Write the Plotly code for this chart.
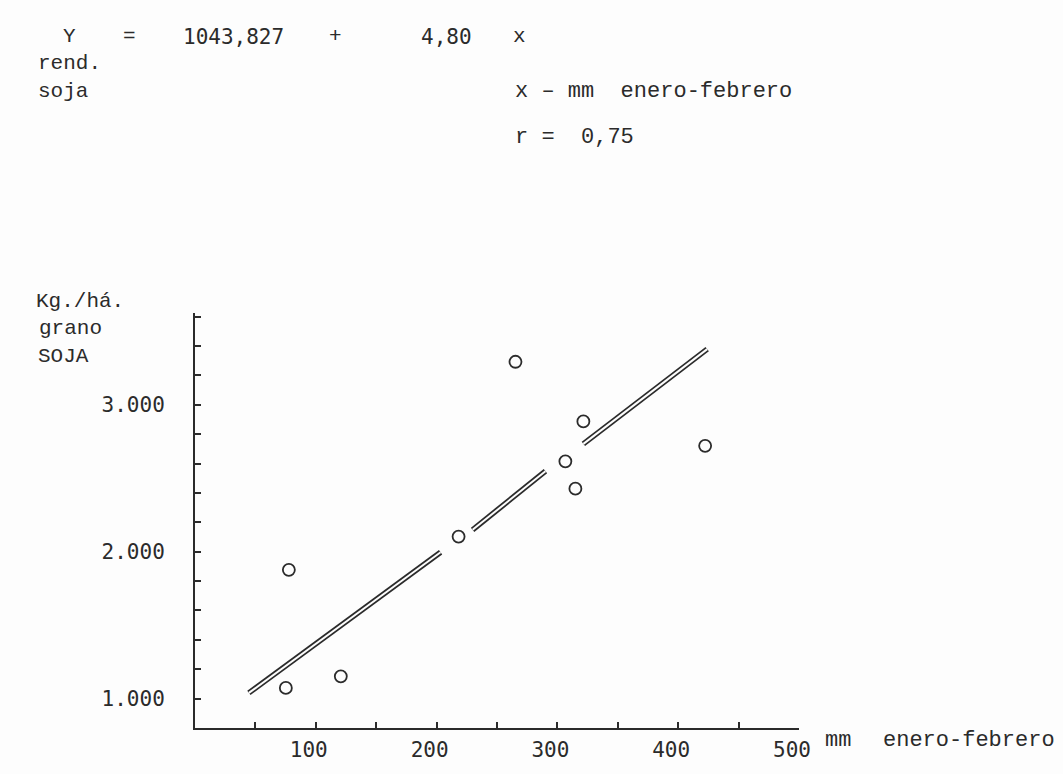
import plotly.graph_objects as go

# ---- data ----
rain_mm = [77.7, 75.2, 120.7, 218.2, 265.3, 321.5, 306.6, 314.9, 422.3]
yield_kg = [1877, 1073, 1152, 2103, 3293, 2887, 2615, 2429, 2721]

# hand-drawn regression line (broken in three pieces around the points)
line_x = [44.6, 203.3, None, 229.8, 290.1, None, 321.5, 424.0]
line_y = [1039, 1996, None, 2149, 2548, None, 2734, 3379]

x_tickvals = [100, 200, 300, 400, 500]
x_ticktext = ["100", "200", "300", "400", "500"]
y_tickvals = [1000, 2000, 3000]
y_ticktext = ["1.000", "2.000", "3.000"]

W, H = 1063, 774
L, R, T, B = 195, 799, 313, 738  # plot area in px

MONO = "Liberation Mono"
SANS_MONO = "DejaVu Sans Mono"
INK = "#2b2b2b"
PAPER = "#fdfdfd"


def px(x, y):
    return (x - L) / (R - L), (B - y) / (B - T)


fig = go.Figure()

# double line: thick dark stroke with a thin light core
fig.add_trace(go.Scatter(x=line_x, y=line_y, mode="lines",
                         line=dict(color=INK, width=5.5), hoverinfo="skip",
                         showlegend=False, connectgaps=False))
fig.add_trace(go.Scatter(x=line_x, y=line_y, mode="lines",
                         line=dict(color=PAPER, width=2.0), hoverinfo="skip",
                         showlegend=False, connectgaps=False))

fig.add_trace(go.Scatter(x=rain_mm, y=yield_kg, mode="markers",
                         marker=dict(symbol="circle-open", size=12, color=INK,
                                     line=dict(color=INK, width=1.8)),
                         showlegend=False))

texts = [
    ("Y", 69, 30, "center", MONO, 21),
    ("=", 129, 30, "center", MONO, 21),
    ("1043,827", 181, 30, "left", SANS_MONO, 21),
    ("+", 335, 30, "center", MONO, 21),
    ("4,80", 419, 30, "left", SANS_MONO, 21),
    ("x", 519, 30, "center", MONO, 21),
    ("rend.", 36, 58, "left", MONO, 21),
    ("soja", 36, 86, "left", MONO, 21),
    ("x – mm\u00a0\u00a0enero-febrero", 513, 86, "left", MONO, 22),
    ("r =\u00a0\u00a00,75", 513, 133, "left", MONO, 22),
    ("Kg./há.", 34, 301, "left", MONO, 21),
    ("grano", 37, 329, "left", MONO, 21),
    ("SOJA", 36, 358, "left", MONO, 21),
    ("mm", 823, 751, "left", MONO, 22),
    ("enero-febrero", 881, 751, "left", MONO, 22),
]
for t, x, y, anc, fam, sz in texts:
    ax, ay = px(x, y)
    fig.add_annotation(text=t, x=ax, y=ay, xref="paper", yref="paper",
                       xanchor=anc, yanchor="middle", showarrow=False,
                       font=dict(family=fam, size=sz, color=INK))

fig.update_layout(
    width=W, height=H,
    margin=dict(l=L, r=W - R, t=T, b=H - B, pad=0),
    paper_bgcolor=PAPER, plot_bgcolor=PAPER,
    showlegend=False,
)
fig.update_xaxes(
    range=[0, 500], showgrid=False, zeroline=False,
    showline=True, linecolor=INK, linewidth=2,
    ticks="inside", ticklen=6, tickwidth=1.5, tickcolor=INK,
    tickvals=x_tickvals, ticktext=x_ticktext,
    ticklabelshift=-7, ticklabelstandoff=2,
    tickfont=dict(family=SANS_MONO, size=21, color=INK),
    minor=dict(dtick=50, tick0=0, ticks="inside", ticklen=6,
               tickwidth=1.5, tickcolor=INK, showgrid=False),
)
fig.update_yaxes(
    range=[800, 3625], showgrid=False, zeroline=False,
    showline=True, linecolor=INK, linewidth=2,
    ticks="inside", ticklen=6, tickwidth=1.5, tickcolor=INK,
    tickvals=y_tickvals, ticktext=y_ticktext,
    ticklabelstandoff=24,
    tickfont=dict(family=SANS_MONO, size=21, color=INK),
    minor=dict(dtick=200, tick0=0, ticks="inside", ticklen=6,
               tickwidth=1.5, tickcolor=INK, showgrid=False),
)

fig.write_html("out.html")
